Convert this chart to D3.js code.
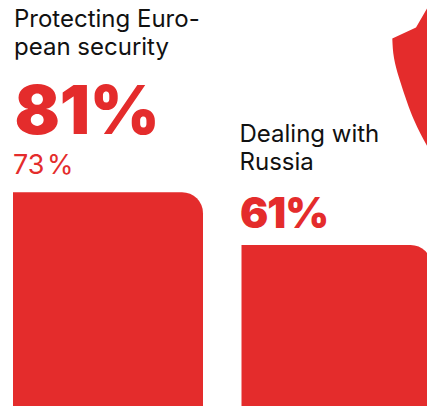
<!DOCTYPE html>
<html>
<head>
<meta charset="utf-8">
<script src="https://cdn.jsdelivr.net/npm/d3@7/dist/d3.min.js"></script>
<style>
html,body{margin:0;padding:0;background:#fff;overflow:hidden}
svg{display:block}
text{font-family:Inter,"Noto Sans",sans-serif}
</style>
</head>
<body>
<svg id="c" width="427" height="408"></svg>
<script>
const categories = ["Protecting European security", "Dealing with Russia"];
const labelLines = [["Protecting Euro-", "pean security"], ["Dealing with", "Russia"]];
const values = [81, 61];
const comparison = [73, null];
const valueLabels = ["81%", "61%"];
const comparisonLabels = ["73\u200A%", ""];
const shieldEdge = [[392.3,38.5],[394,58],[400.7,83],[414,120],[430,151]];
const shieldTop = [[416,27.5],[432,0]];

const RED = "#e42c2c";
const svg = d3.select("#c");
const x = d3.scaleBand().domain(categories).range([13, 431.5]).paddingInner(0.1685);
const y = d3.scaleLinear().domain([0, 100]).range([406, 142]);
const r = 21;

const edgePath = d3.line().curve(d3.curveNatural)(shieldEdge.slice().reverse());
const topPath = d3.line()(shieldTop).replace("M", "L");
svg.append("path").attr("fill", RED).attr("d", edgePath + topPath + "Z");

const g = svg.selectAll("g.bar").data(categories).join("g").attr("class", "bar");

g.append("path").attr("fill", RED).attr("d", d => {
  const i = categories.indexOf(d), x0 = x(d), x1 = x0 + x.bandwidth(), t = y(values[i]), b = y(0);
  return `M${x0},${b}V${t}H${x1 - r}A${r},${r} 0 0 1 ${x1},${t + r}V${b}Z`;
});

const big = [{s:67, base:134, lab:[27,55], dx:1.5, ls:-0.3}, {s:42, base:228, lab:[142,170], dx:-1.5, ls:-1}];
g.each(function(d, i) {
  const gg = d3.select(this), x0 = x(d), st = big[i];
  labelLines[i].forEach((t, j) => {
    gg.append("text").attr("x", x0 + st.dx - 0.5).attr("y", st.lab[j]).attr("font-size", 24)
      .attr("fill", "#111").text(t);
  });
  gg.append("text").attr("x", x0 + st.dx).attr("y", st.base).attr("font-size", st.s)
    .attr("font-weight", 900).attr("letter-spacing", st.ls).attr("fill", RED).text(valueLabels[i]);
  if (comparison[i] !== null) {
    gg.append("text").attr("x", x0).attr("y", 174).attr("font-size", 27)
      .attr("fill", RED).text(comparisonLabels[i]);
  }
});
</script>
</body>
</html>
